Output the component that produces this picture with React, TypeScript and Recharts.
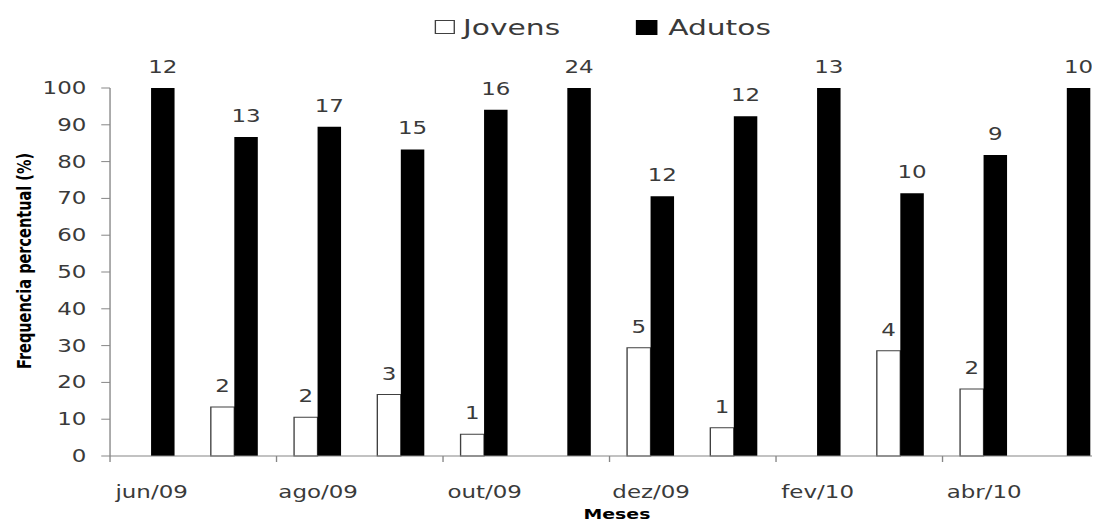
import React from "react";
import { BarChart, Bar, XAxis, YAxis, Legend, LabelList, Label } from "recharts";

const months = [
  "jun/09", "jul/09", "ago/09", "set/09", "out/09", "nov/09",
  "dez/09", "jan/10", "fev/10", "mar/10", "abr/10", "mai/10",
];
// percent of each month's sample
const jovensPct = [0, 13.3, 10.5, 16.7, 5.9, 0, 29.4, 7.7, 0, 28.6, 18.2, 0];
const adultosPct = [100, 86.7, 89.5, 83.3, 94.1, 100, 70.6, 92.3, 100, 71.4, 81.8, 100];
// number of individuals, printed above the bars
const jovensN = [0, 2, 2, 3, 1, 0, 5, 1, 0, 4, 2, 0];
const adultosN = [12, 13, 17, 15, 16, 24, 12, 12, 13, 10, 9, 10];
const yTicks = [0, 10, 20, 30, 40, 50, 60, 70, 80, 90, 100];

const data = months.map((m, i) => ({
  month: m,
  jovens: jovensPct[i],
  adultos: adultosPct[i],
  jovensN: jovensN[i],
  adultosN: adultosN[i],
}));

// the whole figure is drawn wide, as in the exported spreadsheet graphic
const STRETCH = 1.35;
const W = 830;
const H = 526;
const FONT = "'DejaVu Sans', Verdana, sans-serif";
const AXIS = "#868686";
const TEXT = "#3a3a3a";

const XTick = (props: any) => {
  const { x, y, payload } = props;
  const half = payload?.offset ?? 30.8;
  return (
    <g>
      <line x1={x - half} x2={x - half} y1={y} y2={y + 6} stroke={AXIS} />
      <text x={x} y={y + 42} textAnchor="middle" fontSize={17} fontFamily={FONT} fill={TEXT}>
        {payload.value}
      </text>
    </g>
  );
};

const countLabel = (props: any) => {
  const { x, y, width, value } = props;
  if (!value) return null;
  return (
    <text
      x={Number(x) + Number(width) / 2}
      y={Number(y) - 15}
      textAnchor="middle"
      fontSize={17}
      fontFamily={FONT}
      fill={TEXT}
    >
      {value}
    </text>
  );
};

const renderLegend = () => (
  <div
    style={{
      display: "flex",
      alignItems: "flex-start",
      fontFamily: FONT,
      fontSize: 22,
      lineHeight: "22px",
      color: TEXT,
    }}
  >
    <span
      style={{
        width: 15,
        height: 14,
        marginTop: 3,
        border: "1px solid #404040",
        background: "#fff",
        boxSizing: "border-box",
      }}
    />
    <span style={{ marginLeft: 6, marginRight: 56 }}>Jovens</span>
    <span style={{ width: 16, height: 15, marginTop: 2.5, background: "#000" }} />
    <span style={{ marginLeft: 8 }}>Adutos</span>
  </div>
);

export default function App() {
  return (
    <div
      style={{
        position: "absolute",
        left: 0,
        top: 0,
        width: 1092,
        height: H,
        overflow: "hidden",
        background: "#fff",
      }}
    >
      <div style={{ width: W, height: H, transform: `scaleX(${STRETCH})`, transformOrigin: "0 0" }}>
        <BarChart
          width={W}
          height={H}
          data={data}
          margin={{ top: 88, right: 8.5, left: 31.5, bottom: 30 }}
          barGap={0}
          barSize={17.4}
        >
          <XAxis
            dataKey="month"
            interval={1}
            stroke={AXIS}
            tickLine={false}
            tickSize={0}
            tickMargin={0}
            height={40}
            tick={<XTick />}
          >
            <Label
              content={() => (
                <text x={457} y={519} textAnchor="middle" fontSize={14} fontWeight="bold" fontFamily={FONT} fill="#000">
                  Meses
                </text>
              )}
            />
          </XAxis>
          <YAxis
            type="number"
            domain={[0, 100]}
            ticks={yTicks}
            width={50}
            stroke={AXIS}
            tickSize={6.5}
            tickMargin={11}
            tick={{ fontSize: 17, fontFamily: FONT, fill: TEXT }}
          >
            <Label
              content={() => (
                <text
                  transform="translate(23,261) rotate(-90)"
                  textAnchor="middle"
                  fontSize={14.5}
                  fontWeight="bold"
                  fontFamily={FONT}
                  fill="#000"
                >
                  Frequencia percentual (%)
                </text>
              )}
            />
          </YAxis>
          <Legend
            layout="vertical"
            align="center"
            verticalAlign="middle"
            content={renderLegend}
            wrapperStyle={{ top: 17.4, left: 322, width: 300, height: 30 }}
          />
          <Bar dataKey="jovens" fill="#fff" stroke="#404040" strokeWidth={1} isAnimationActive={false}>
            <LabelList dataKey="jovensN" content={countLabel} />
          </Bar>
          <Bar dataKey="adultos" fill="#000" isAnimationActive={false}>
            <LabelList dataKey="adultosN" content={countLabel} />
          </Bar>
        </BarChart>
      </div>
    </div>
  );
}
